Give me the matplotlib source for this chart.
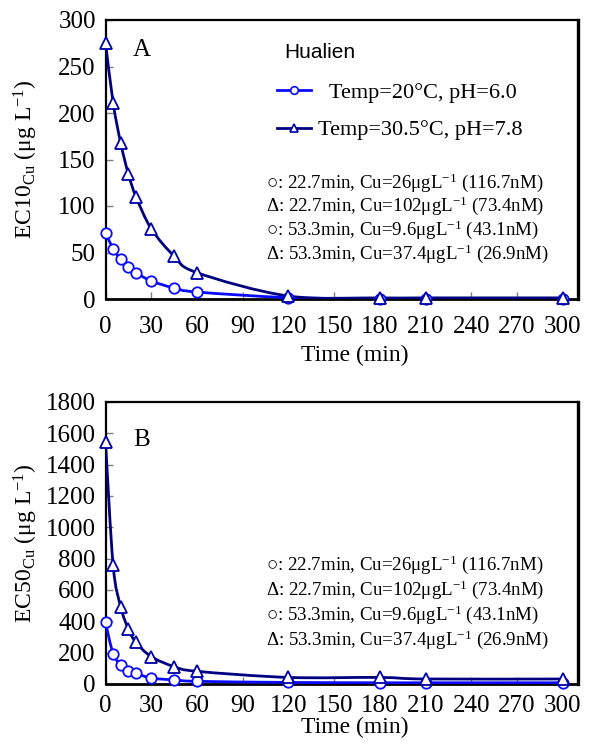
import matplotlib
matplotlib.use("Agg")
import matplotlib.pyplot as plt
from matplotlib.path import Path
from matplotlib.patches import PathPatch
from matplotlib.lines import Line2D
import numpy as np

plt.rcParams['font.family'] = ['Liberation Serif', 'DejaVu Serif']
plt.rcParams['mathtext.fontset'] = 'custom'
plt.rcParams['mathtext.rm'] = 'Liberation Serif'
plt.rcParams['mathtext.it'] = 'Liberation Serif:italic'
plt.rcParams['mathtext.bf'] = 'Liberation Serif:bold'

# ---------------- data ----------------
time_min = [0, 5, 10, 15, 20, 30, 45, 60, 120, 180, 210, 300]

ec10_20C = [71.3, 54, 42.7, 34.7, 28.3, 19.4, 11.8, 7.5, 1.5, 0.5, 0.5, 0.5]
ec10_305C = [275.8, 211, 167.4, 134.4, 110, 75.6, 46.2, 28.3, 3.2, 1.2, 1.2, 1.2]

ec50_20C = [394, 193, 124, 85, 68, 38, 26, 17, 10, 8, 8, 8]
ec50_305C = [1547, 758, 492, 351, 265, 175, 111, 81, 42, 42, 32, 32]

x_ticks = [0, 30, 60, 90, 120, 150, 180, 210, 240, 270, 300]
yticks_A = [0, 50, 100, 150, 200, 250, 300]
yticks_B = [0, 200, 400, 600, 800, 1000, 1200, 1400, 1600, 1800]

legend_labels = ["  Temp=20°C, pH=6.0", "Temp=30.5°C, pH=7.8"]
site_label = "Hualien"
notes = [
    "○: 22.7min, Cu=26μgL$^{\\mathregular{-1}}$ (116.7nM)",
    "Δ: 22.7min, Cu=102μgL$^{\\mathregular{-1}}$ (73.4nM)",
    "○: 53.3min, Cu=9.6μgL$^{\\mathregular{-1}}$ (43.1nM)",
    "Δ: 53.3min, Cu=37.4μgL$^{\\mathregular{-1}}$ (26.9nM)",
]

c_low = '#0a0aff'
c_high = '#000080'
c_high_edge = '#0000a8'


def smooth_path(x, y):
    x = np.asarray(x, float)
    y = np.asarray(y, float)
    n = len(x)
    verts = [(x[0], y[0])]
    codes = [Path.MOVETO]
    for i in range(n - 1):
        p0 = np.array([x[max(i - 1, 0)], y[max(i - 1, 0)]])
        p1 = np.array([x[i], y[i]])
        p2 = np.array([x[i + 1], y[i + 1]])
        p3 = np.array([x[min(i + 2, n - 1)], y[min(i + 2, n - 1)]])
        c1 = p1 + (p2 - p0) / 6.0
        c2 = p2 - (p3 - p1) / 6.0
        verts += [tuple(c1), tuple(c2), tuple(p2)]
        codes += [Path.CURVE4] * 3
    return Path(verts, codes)


fig = plt.figure(figsize=(5.98, 7.44), dpi=100)

W, H = 598.0, 744.0
axA = fig.add_axes([105.5 / W, 1 - 299 / H, (578 - 105.5) / W, (299 - 20) / H])
axB = fig.add_axes([105.5 / W, 1 - 684 / H, (578 - 105.5) / W, (684 - 402) / H])


def style_axis(ax, yt, ymax, pad_x):
    ax.set_xlim(0, 310)
    ax.set_ylim(0, ymax)
    ax.set_xticks(x_ticks)
    ax.set_yticks(yt)
    ax.tick_params(direction='in', length=5, width=1, color='#7f7f7f',
                   labelsize=18, pad=7)
    ax.tick_params(axis='x', pad=pad_x)
    for s in ax.spines.values():
        s.set_linewidth(1.6)
        s.set_color('black')
    ax.spines['right'].set_linewidth(2.4)
    ax.spines['bottom'].set_linewidth(2.0)


def draw_series(ax, yl, yh):
    ax.add_patch(PathPatch(smooth_path(time_min, yl), fill=False,
                           edgecolor=c_low, lw=2.0, zorder=3))
    ax.add_patch(PathPatch(smooth_path(time_min, yh), fill=False,
                           edgecolor=c_high, lw=2.0, zorder=3))
    ax.plot(time_min, yl, linestyle='none', marker='o', ms=7.5,
            mfc='white', mec=c_low, mew=1.3, zorder=4, clip_on=False)
    ax.plot(time_min, yh, linestyle='none', marker='^', ms=8,
            mfc='white', mec=c_high_edge, mew=1.3, zorder=4, clip_on=False)


def draw_notes(ax, y0_px, step, ax_top, ax_bot):
    for i, t in enumerate(notes):
        ypx = y0_px + i * step
        yf = (ax_bot - ypx) / (ax_bot - ax_top)
        ax.text((266 - 105.5) / 472.5, yf, t, transform=ax.transAxes,
                fontsize=13.6, va='center', ha='left')


# Panel A
style_axis(axA, yticks_A, 300, 12.5)
draw_series(axA, ec10_20C, ec10_305C)
axA.set_xlabel("Time (min)", fontsize=17)
axA.xaxis.label.set_va('center')
axA.set_ylabel("EC10$_{\\mathregular{Cu}}$ (μg L$^{\\mathregular{-1}}$)",
               fontsize=17)
axA.yaxis.set_label_coords((40 - 105.5) / 472.5, 0.5)
axA.xaxis.set_label_coords((355 - 105.5) / 472.5, (299 - 355) / 279)
axA.text(0.058, 0.892, "A", transform=axA.transAxes, fontsize=18,
         va='center', ha='left')
axA.text(0.378, 0.885, site_label, transform=axA.transAxes, fontsize=15,
         va='center', ha='left', family=['Liberation Sans'])
handles = [
    Line2D([], [], color=c_low, lw=2.0, marker='o', ms=5.5, mfc='white',
           mec=c_low, mew=1.2),
    Line2D([], [], color=c_high, lw=2.0, marker='^', ms=6, mfc='white',
           mec=c_high_edge, mew=1.2),
]
axA.legend(handles, legend_labels, loc='upper left',
           bbox_to_anchor=((277 - 105.5) / 472.5, (299 - 82) / 279),
           frameon=False, fontsize=16, handlelength=1.55,
           handletextpad=0.3, labelspacing=0.78, borderpad=0,
           borderaxespad=0)
draw_notes(axA, 182.5, 23.7, 20, 299)

# Panel B
style_axis(axB, yticks_B, 1800, 8)
draw_series(axB, ec50_20C, ec50_305C)
axB.set_xlabel("Time (min)", fontsize=17)
axB.xaxis.label.set_va('center')
axB.set_ylabel("EC50$_{\\mathregular{Cu}}$ (μg L$^{\\mathregular{-1}}$)",
               fontsize=17)
axB.yaxis.set_label_coords((40 - 105.5) / 472.5, 0.5)
axB.xaxis.set_label_coords((355 - 105.5) / 472.5, (684 - 727) / 282)
axB.text(0.058, 0.865, "B", transform=axB.transAxes, fontsize=18,
         va='center', ha='left')
draw_notes(axB, 565, 25, 402, 684)

fig.savefig("out.png", dpi=100)
